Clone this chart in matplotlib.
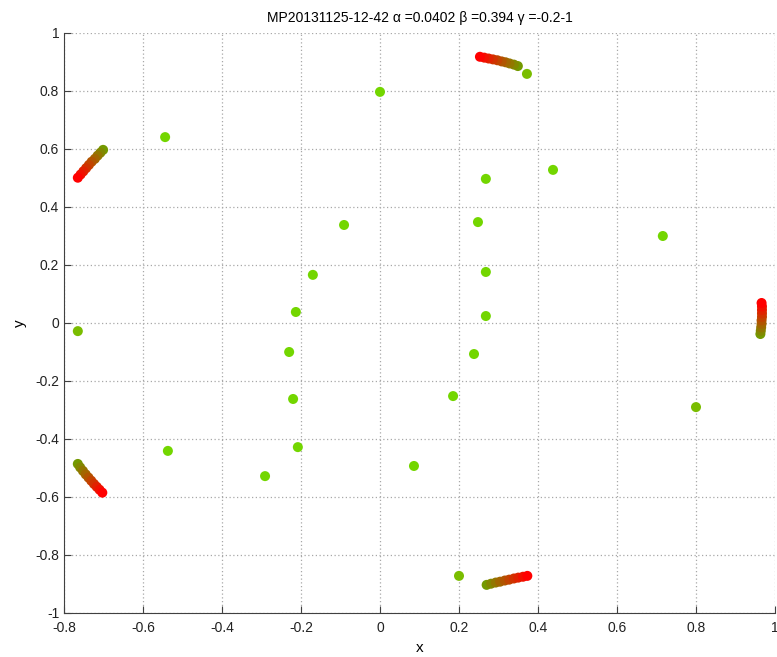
import matplotlib
matplotlib.use("Agg")
import matplotlib.pyplot as plt
from matplotlib.colors import LinearSegmentedColormap
import numpy as np

plt.rcParams['font.family'] = ['Liberation Sans', 'DejaVu Sans']
plt.rcParams['axes.unicode_minus'] = False

# single points
pts_x = [0.0, -0.544, 0.268, 0.438, 0.248, -0.091, 0.716, -0.17, 0.268, -0.213,
         0.268, -0.23, 0.238, -0.22, 0.185, -0.208, -0.537, 0.086, -0.291]
pts_y = [0.797, 0.641, 0.497, 0.528, 0.348, 0.338, 0.3, 0.166, 0.176, 0.038,
         0.024, -0.1, -0.107, -0.262, -0.252, -0.428, -0.441, -0.493, -0.528]
old_x = [0.372, 0.8, -0.765, 0.2]
old_y = [0.859, -0.29, -0.028, -0.872]

# trails, red end first
trail_a_x = [-0.765, -0.758, -0.751, -0.744, -0.737, -0.730, -0.722, -0.715, -0.708, -0.701]
trail_a_y = [0.501, 0.512, 0.523, 0.534, 0.545, 0.556, 0.566, 0.577, 0.587, 0.597]
trail_b_x = [0.253, 0.264, 0.275, 0.286, 0.297, 0.308, 0.318, 0.328, 0.339, 0.349]
trail_b_y = [0.918, 0.915, 0.912, 0.909, 0.906, 0.902, 0.899, 0.895, 0.891, 0.886]
trail_c_x = [0.966, 0.967, 0.967, 0.967, 0.967, 0.966, 0.966, 0.965, 0.964, 0.963]
trail_c_y = [0.069, 0.057, 0.045, 0.033, 0.021, 0.009, -0.003, -0.015, -0.027, -0.038]
trail_d_x = [-0.703, -0.710, -0.717, -0.724, -0.731, -0.738, -0.745, -0.752, -0.759, -0.765]
trail_d_y = [-0.585, -0.575, -0.565, -0.555, -0.544, -0.533, -0.522, -0.510, -0.498, -0.486]
trail_e_x = [0.373, 0.362, 0.350, 0.339, 0.327, 0.316, 0.304, 0.293, 0.281, 0.270]
trail_e_y = [-0.872, -0.875, -0.878, -0.881, -0.885, -0.888, -0.892, -0.895, -0.899, -0.903]

trails = [(trail_a_x, trail_a_y), (trail_b_x, trail_b_y), (trail_c_x, trail_c_y),
          (trail_d_x, trail_d_y), (trail_e_x, trail_e_y)]

xticks = [-0.8, -0.6, -0.4, -0.2, 0, 0.2, 0.4, 0.6, 0.8, 1]
xlabels = ['-0.8', '-0.6', '-0.4', '-0.2', '0', '0.2', '0.4', '0.6', '0.8', '1']
yticks = [-1, -0.8, -0.6, -0.4, -0.2, 0, 0.2, 0.4, 0.6, 0.8, 1]
ylabels = ['-1', '-0.8', '-0.6', '-0.4', '-0.2', '0', '0.2', '0.4', '0.6', '0.8', '1']

cmap = LinearSegmentedColormap.from_list('rg', [(1, 0, 0), (0.45, 0.6, 0.0)])

fig = plt.figure(figsize=(7.77, 6.57), dpi=100)
ax = fig.add_axes([64 / 777, 44 / 657, 711 / 777, 580 / 657])

ms = 52
ax.scatter(pts_x, pts_y, s=ms, color=(0.45, 0.84, 0.0), edgecolors='none', zorder=3)
ax.scatter(old_x, old_y, s=ms, color=(0.48, 0.74, 0.0), edgecolors='none', zorder=3)
for tx, ty in trails:
    n = len(tx)
    c = cmap(np.linspace(0, 1, n))
    ax.scatter(tx[::-1], ty[::-1], s=ms, c=c[::-1], edgecolors='none', zorder=3)

ax.set_xlim(-0.8, 1)
ax.set_ylim(-1, 1)
ax.set_xticks(xticks, xlabels)
ax.set_yticks(yticks, ylabels)
ax.grid(True, color='#a8a8a8', linestyle=(0, (1, 2)), linewidth=0.9)
ax.set_axisbelow(True)
for s in ['top', 'right']:
    ax.spines[s].set_visible(False)
for s in ['left', 'bottom']:
    ax.spines[s].set_color('#404040')
ax.tick_params(direction='in', length=5, colors='#404040', labelcolor='#222222', labelsize=10)
ax.tick_params(axis='x', pad=6)

ax.set_xlabel('x', fontsize=11, labelpad=4)
ax.set_ylabel('y', fontsize=11, labelpad=6)
ax.set_title('MP20131125-12-42 α =0.0402 β =0.394 γ =-0.2-1', fontsize=10, pad=8)

fig.savefig('out.png', dpi=100)
